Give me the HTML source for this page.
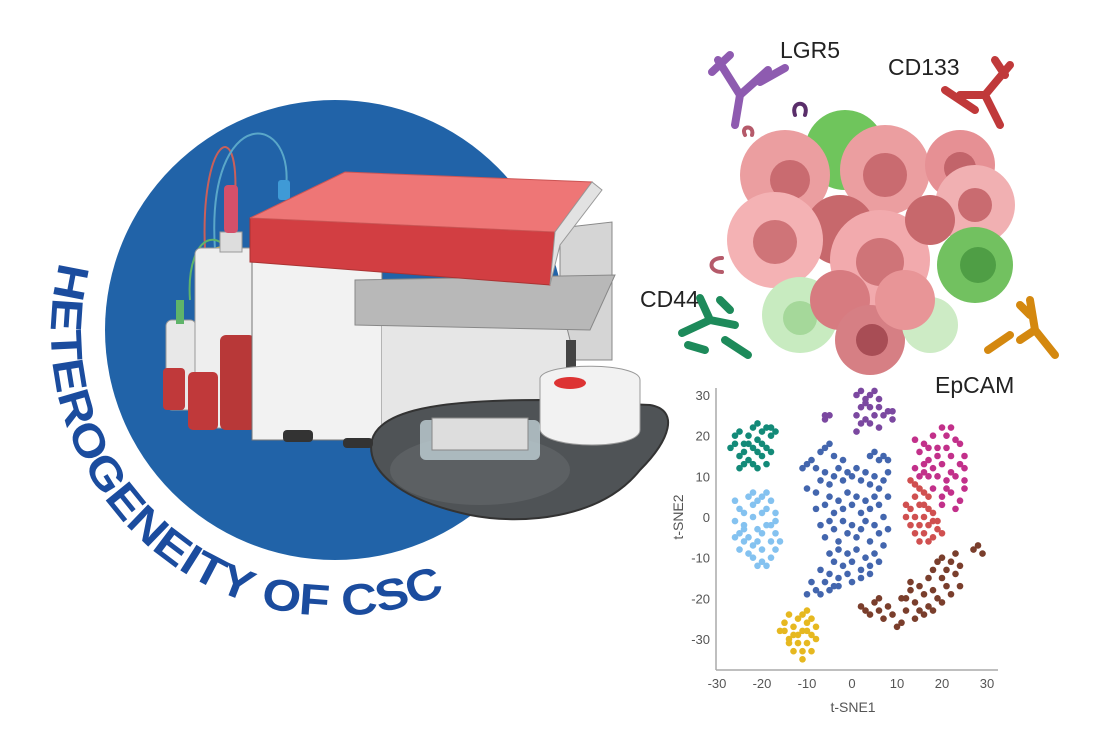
<!DOCTYPE html>
<html><head><meta charset="utf-8">
<style>
html,body{margin:0;padding:0;background:#fff;}
body{width:1103px;height:750px;overflow:hidden;font-family:"Liberation Sans",sans-serif;}
svg{display:block}
</style></head>
<body>
<svg width="1103" height="750" viewBox="0 0 1103 750">
  <circle cx="335" cy="330" r="230" fill="#2163a8"/>
  <defs>
    <path id="arcText" d="M 60 262 A 283 283 0 0 0 468 582"/>
  </defs>
  <text font-family="Liberation Sans, sans-serif" font-weight="bold" font-size="44" fill="#1b4c9e"><textPath href="#arcText" textLength="630" lengthAdjust="spacingAndGlyphs">HETEROGENEITY OF CSC</textPath></text>

  <g>
    <path d="M205 250 C200 140 240 110 235 200" fill="none" stroke="#c9605a" stroke-width="2"/>
    <path d="M215 250 C205 100 300 110 285 195" fill="none" stroke="#5aa7c9" stroke-width="2"/>
    <path d="M190 300 C185 230 230 210 245 300" fill="none" stroke="#5fb46a" stroke-width="2"/>
    <path d="M205 280 C198 240 240 230 250 290" fill="none" stroke="#e0c43a" stroke-width="2"/>
    <rect x="166" y="320" width="30" height="90" rx="6" fill="#e8e8e8" stroke="#999"/>
    <rect x="163" y="368" width="22" height="42" rx="4" fill="#c0393a"/>
    <rect x="176" y="300" width="8" height="24" fill="#5fb46a"/>
    <rect x="195" y="248" width="60" height="180" rx="6" fill="#eeeeee" stroke="#999"/>
    <rect x="220" y="232" width="22" height="20" fill="#ddd" stroke="#999"/>
    <rect x="224" y="185" width="14" height="48" rx="4" fill="#d4506a"/>
    <rect x="278" y="180" width="12" height="20" rx="3" fill="#3f9ad6"/>
    <rect x="220" y="335" width="35" height="95" rx="6" fill="#b83838"/>
    <rect x="188" y="372" width="30" height="58" rx="5" fill="#c0393a"/>
    <rect x="252" y="262" width="130" height="178" fill="#f2f2f2" stroke="#777"/>
    <rect x="382" y="320" width="190" height="115" fill="#e6e6e6"/>
    <path d="M560 228 L612 222 L612 360 L575 360 L560 300 Z" fill="#d5d5d5" stroke="#888"/>
    <path d="M355 280 L615 275 L590 330 L355 325 Z" fill="#b8b8b8" stroke="#888"/>
    <path d="M250 218 L555 232 L550 285 L250 262 Z" fill="#d23e42" stroke="#a33"/>
    <path d="M250 218 L345 172 L592 182 L555 232 Z" fill="#ee7676" stroke="#c55"/>
    <path d="M555 232 L592 182 L602 190 L560 245 L550 285 Z" fill="#e2e2e2" stroke="#999"/>
    <rect x="566" y="340" width="10" height="40" fill="#444"/>
    <path d="M372 440 C380 410 440 400 540 400 L650 405 C680 410 670 440 640 470 C600 520 520 525 470 515 C400 500 365 470 372 440 Z" fill="#4f5356" stroke="#333" stroke-width="2"/>
    <ellipse cx="480" cy="470" rx="90" ry="35" fill="#5c6063"/>
    <path d="M540 378 C545 362 640 362 640 380 L640 430 C640 450 545 450 540 430 Z" fill="#f2f2f2" stroke="#999"/>
    <ellipse cx="570" cy="383" rx="16" ry="6" fill="#d33"/>
    <rect x="420" y="420" width="120" height="40" rx="6" fill="#bfd0d4" opacity="0.8"/>
    <rect x="432" y="418" width="96" height="32" fill="#ddd" stroke="#888"/>
    <rect x="283" y="430" width="30" height="12" rx="4" fill="#333"/>
    <rect x="343" y="438" width="30" height="10" rx="4" fill="#333"/>
  </g>

  <g>
    <circle cx="845" cy="150" r="40" fill="#6fc55c"/>
    <circle cx="785" cy="175" r="45" fill="#eb9ea0"/><circle cx="790" cy="180" r="20" fill="#c96b70"/>
    <circle cx="885" cy="170" r="45" fill="#eb9ea0"/><circle cx="885" cy="175" r="22" fill="#c96b70"/>
    <circle cx="960" cy="165" r="35" fill="#e69094"/><circle cx="960" cy="168" r="16" fill="#c2646a"/>
    <circle cx="975" cy="205" r="40" fill="#f1b0b2"/><circle cx="975" cy="205" r="17" fill="#c96b70"/>
    <circle cx="840" cy="230" r="35" fill="#c7686c"/>
    <circle cx="775" cy="240" r="48" fill="#f4b2b4"/><circle cx="775" cy="242" r="22" fill="#cf7478"/>
    <circle cx="880" cy="260" r="50" fill="#f2aaad"/><circle cx="880" cy="262" r="24" fill="#cf7478"/>
    <circle cx="930" cy="220" r="25" fill="#c7686c"/>
    <circle cx="975" cy="265" r="38" fill="#72c160"/><circle cx="978" cy="265" r="18" fill="#4f9e45"/>
    <circle cx="800" cy="315" r="38" fill="#c8ebc0"/><circle cx="800" cy="318" r="17" fill="#a5d89a"/>
    <circle cx="840" cy="300" r="30" fill="#d77b80"/>
    <circle cx="870" cy="340" r="35" fill="#d67f84"/><circle cx="872" cy="340" r="16" fill="#a84d55"/>
    <circle cx="930" cy="325" r="28" fill="#cdebc5"/>
    <circle cx="905" cy="300" r="30" fill="#e89597"/>
  </g>
  <g stroke-linecap="round" fill="none">
    <g stroke="#8e5bb0" stroke-width="8"><path d="M735 125 L740 95 M740 95 L718 60 M740 95 L768 70 M712 72 L730 55 M760 82 L785 68"/></g>
    <g stroke="#c0393a" stroke-width="8"><path d="M985 95 L960 95 M985 95 L1000 125 M985 95 L1010 65 M945 90 L975 110 M995 60 L1005 75"/></g>
    <g stroke="#1d8a5a" stroke-width="8"><path d="M735 325 L710 320 M710 320 L682 333 M710 320 L700 298 M688 345 L705 350 M720 300 L730 310 M725 340 L748 355"/></g>
    <g stroke="#d4880f" stroke-width="8"><path d="M1020 340 L1035 330 M1035 330 L1030 300 M1035 330 L1055 355 M988 350 L1010 335 M1020 305 L1030 315"/></g>
    <path d="M795 115 C790 100 810 100 805 115" stroke="#5a2e6a" stroke-width="4"/>
    <path d="M745 135 C740 125 755 125 752 135" stroke="#b55a6a" stroke-width="4"/>
    <path d="M722 258 C708 258 708 272 722 272" stroke="#b55a6a" stroke-width="4"/>
  </g>
  <g font-family="Liberation Sans, sans-serif" font-size="23" fill="#222">
    <text x="780" y="58">LGR5</text>
    <text x="888" y="75">CD133</text>
    <text x="640" y="307">CD44</text>
    <text x="935" y="393">EpCAM</text>
  </g>

  <g id="tsne"></g>
</svg>
<script>
const xTicks = [-30,-20,-10,0,10,20,30];
const yTicks = [30,20,10,0,-10,-20,-30];
const clusterNames = ['teal','lightblue','yellow','purple','magenta','red','brown','blue'];
const clusterColors = ['#138a78','#84c2f0','#e6b820','#7b48a0','#c2308a','#d05050','#7a3e2c','#4366ae'];
const teal = [[-27,17],[-26,20],[-25,21],[-24,18],[-23,20],[-22,22],[-21,23],[-20,21],[-19,22],[-18,20],[-26,18],[-25,15],[-24,16],[-23,14],[-22,17],[-21,19],[-20,18],[-19,17],[-18,16],[-20,15],[-22,13],[-24,13],[-25,12],[-21,12],[-19,13],[-23,18],[-17,21],[-18,22],[-21,16]];
const lightblue = [[-26,4],[-25,2],[-26,-1],[-25,-4],[-24,-2],[-24,1],[-23,5],[-22,6],[-21,4],[-20,5],[-19,6],[-18,4],[-17,1],[-18,-2],[-17,-4],[-16,-6],[-17,-8],[-18,-10],[-19,-12],[-20,-11],[-21,-12],[-22,-10],[-23,-9],[-25,-8],[-24,-6],[-22,-7],[-21,-3],[-22,0],[-20,1],[-20,-4],[-19,-2],[-18,-6],[-20,-8],[-23,-5],[-21,-6],[-22,3],[-24,-3],[-19,2],[-17,-1],[-26,-5]];
const yellow = [[-15,-26],[-14,-24],[-13,-27],[-12,-25],[-11,-24],[-10,-26],[-9,-25],[-8,-27],[-15,-28],[-13,-29],[-11,-28],[-9,-29],[-8,-30],[-14,-31],[-12,-31],[-10,-31],[-9,-33],[-11,-33],[-13,-33],[-11,-35],[-14,-30],[-12,-29],[-10,-28],[-16,-28],[-10,-23]];
const purple = [[1,30],[2,31],[3,29],[4,30],[5,31],[6,29],[2,27],[4,27],[6,27],[8,26],[9,26],[1,25],[3,24],[5,25],[7,25],[2,23],[4,23],[6,22],[9,24],[1,21],[3,28],[-6,25],[-5,25],[-6,24]];
const magenta = [[14,19],[15,16],[16,18],[17,14],[18,20],[19,17],[20,22],[21,20],[22,22],[23,19],[24,18],[25,15],[25,12],[24,13],[22,15],[20,13],[18,12],[16,13],[14,12],[15,10],[17,10],[19,10],[21,9],[23,10],[25,9],[25,7],[24,4],[22,6],[20,5],[18,7],[20,3],[21,7],[23,2],[19,15],[21,17],[17,17],[22,11],[16,11]];
const red = [[13,9],[14,8],[15,7],[16,6],[17,5],[14,5],[12,3],[13,2],[15,3],[17,2],[18,1],[12,0],[14,0],[16,0],[18,-1],[13,-2],[15,-2],[17,-2],[19,-3],[14,-4],[16,-4],[18,-5],[15,-6],[17,-6],[19,-1],[20,-4],[16,3]];
const brown = [[2,-22],[3,-23],[4,-24],[5,-21],[6,-23],[7,-25],[8,-22],[9,-24],[10,-27],[11,-26],[12,-23],[12,-20],[13,-18],[14,-21],[15,-17],[15,-23],[16,-19],[17,-15],[17,-22],[18,-13],[18,-18],[19,-11],[19,-20],[20,-15],[20,-10],[21,-17],[21,-13],[22,-11],[22,-19],[23,-14],[23,-9],[24,-17],[24,-12],[14,-25],[16,-24],[11,-20],[13,-16],[27,-8],[28,-7],[29,-9],[18,-23],[20,-21],[6,-20]];
const blue = [[-11,12],[-10,13],[-9,14],[-8,12],[-7,16],[-6,17],[-5,18],[-4,15],[-2,14],[4,15],[5,16],[6,14],[7,15],[8,14],[-10,7],[-8,6],[-7,9],[-6,11],[-5,8],[-4,10],[-3,12],[-2,9],[-1,11],[0,10],[1,12],[2,9],[3,11],[4,8],[5,10],[6,7],[7,9],[8,11],[-8,2],[-6,3],[-5,5],[-4,1],[-3,4],[-2,2],[-1,6],[0,3],[1,5],[2,1],[3,4],[4,2],[5,5],[6,3],[7,0],[8,5],[-7,-2],[-6,-5],[-5,-1],[-4,-3],[-3,-6],[-2,-1],[-1,-4],[0,-2],[1,-5],[2,-3],[3,-1],[4,-6],[5,-2],[6,-4],[7,-7],[8,-3],[-5,-9],[-4,-11],[-3,-8],[-2,-12],[-1,-9],[0,-11],[1,-8],[2,-13],[3,-10],[4,-12],[5,-9],[6,-11],[-7,-13],[-6,-16],[-5,-14],[-4,-17],[-3,-15],[-1,-14],[0,-16],[2,-15],[4,-14],[-9,-16],[-8,-18],[-10,-19],[-7,-19],[-5,-18],[-3,-17]];
const clusters = [teal, lightblue, yellow, purple, magenta, red, brown, blue];

const NS = 'http://www.w3.org/2000/svg';
const g = document.getElementById('tsne');
const X0 = 717, X1 = 987, Y30 = 395, Ym30 = 639;
function sx(v){ return X0 + (v + 30) * (X1 - X0) / 60; }
function sy(v){ return Y30 + (30 - v) * (Ym30 - Y30) / 60; }
function mk(tag, attrs){ const e = document.createElementNS(NS, tag); for (const k in attrs) e.setAttribute(k, attrs[k]); g.appendChild(e); return e; }

let ax = mk('line',{x1:716,y1:388,x2:716,y2:670,stroke:'#aaa','stroke-width':1.5});


let bx = mk('line',{x1:716,y1:670,x2:998,y2:670,stroke:'#aaa','stroke-width':1.5});



xTicks.forEach(t => {
  const e = mk('text',{x:sx(t),y:688,'text-anchor':'middle','font-size':13,fill:'#555','font-family':'Liberation Sans, sans-serif'});
  e.textContent = t;
  
  
});
yTicks.forEach(t => {
  const e = mk('text',{x:710,y:sy(t)+5,'text-anchor':'end','font-size':13,fill:'#555','font-family':'Liberation Sans, sans-serif'});
  e.textContent = t;
  
  
});
let xt = mk('text',{x:853,y:712,'text-anchor':'middle','font-size':14,fill:'#555','font-family':'Liberation Sans, sans-serif'});
xt.textContent = 't-SNE1';


let yt = mk('text',{x:0,y:0,'text-anchor':'middle','font-size':14,fill:'#555','font-family':'Liberation Sans, sans-serif',transform:'translate(683,517) rotate(-90)'});
yt.textContent = 't-SNE2';



clusters.forEach((pts, ci) => {
  pts.forEach(p => {
    const c = mk('circle',{cx:sx(p[0]),cy:sy(p[1]),r:3.3,fill:clusterColors[ci]});
    
    
  });
});
</script>
</body></html>
